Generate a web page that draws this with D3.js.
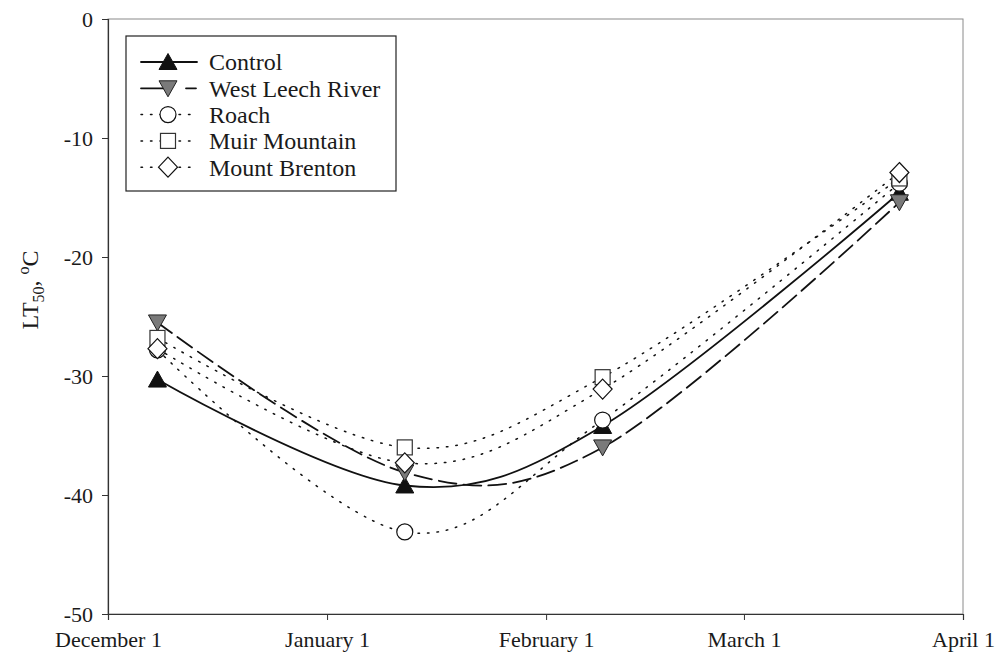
<!DOCTYPE html>
<html>
<head>
<meta charset="utf-8">
<script src="https://cdn.jsdelivr.net/npm/d3@7"></script>
<style>
  body { margin: 0; background: #fff; }
  svg text { font-family: "Liberation Serif", "Times New Roman", Times, "DejaVu Serif", serif !important; fill: #1a1a1a; }
</style>
</head>
<body>
<svg width="997" height="653"></svg>
<script>
// sampling dates and LT50 values
var dates = ["2001-12-08", "2002-01-12", "2002-02-09", "2002-03-23"];
var control = [-30.3, -39.2, -34.2, -14.6];
var westLeech = [-25.5, -38.1, -36.0, -15.4];
var roach = [-27.8, -43.1, -33.7, -13.8];
var muir = [-26.8, -36.0, -30.1, -13.4];
var brenton = [-27.7, -37.3, -31.1, -12.9];

var seriesNames = ["Control", "West Leech River", "Roach", "Muir Mountain", "Mount Brenton"];
var xTickDates = ["2001-12-01", "2002-01-01", "2002-02-01", "2002-03-01", "2002-04-01"];
var xTickLabels = ["December 1", "January 1", "February 1", "March 1", "April 1"];
var yTicks = [0, -10, -20, -30, -40, -50];

var svg = d3.select("svg");
var parse = d3.timeParse("%Y-%m-%d");

// plot area edges ("top" is reserved on window, so use other names)
var plotL = 108, plotR = 963, plotT = 19, plotB = 614;

var x = d3.scaleTime()
  .domain([parse(xTickDates[0]), parse(xTickDates[xTickDates.length - 1])])
  .range([plotL, plotR]);
var y = d3.scaleLinear().domain([-50, 0]).range([plotB, plotT]);

// plot frame, light grey
svg.append("rect")
  .attr("x", plotL).attr("y", plotT)
  .attr("width", plotR - plotL).attr("height", plotB - plotT)
  .attr("fill", "none").attr("stroke", "#8a8a8a").attr("stroke-width", 1);

// axes
var xAxis = d3.axisBottom(x)
  .tickValues(xTickDates.map(parse))
  .tickFormat(function(d, i) { return xTickLabels[i]; })
  .tickSize(6).tickPadding(7);
var gx = svg.append("g").attr("transform", "translate(0," + plotB + ")").call(xAxis);

// plain hyphen for negatives, like the original
var yAxis = d3.axisLeft(y).tickValues(yTicks).tickSize(6).tickPadding(9)
  .tickFormat(function(d) { return String(d); });
var gy = svg.append("g").attr("transform", "translate(" + plotL + ",0)").call(yAxis);

[gx, gy].forEach(function(g) {
  g.attr("font-family", null);
  g.select(".domain").attr("stroke", "#333").attr("stroke-width", 1.2);
  g.selectAll(".tick line").attr("stroke", "#333");
  g.selectAll(".tick text")
    .attr("font-size", 22)
    .attr("fill", "#1a1a1a");
});
gx.selectAll(".tick text").attr("dy", "0.9em");

// y axis title: LT50, oC
var title = svg.append("text")
  .attr("transform", "translate(38,290) rotate(-90)")
  .attr("text-anchor", "middle")
  .attr("font-size", 24);
title.append("tspan").text("LT");
title.append("tspan").attr("font-size", 16).attr("dy", 6).text("50");
title.append("tspan").attr("dy", -6).text(", ");
title.append("tspan").attr("font-size", 16).attr("dy", -9).text("o");
title.append("tspan").attr("dy", 9).text("C");

// series styles
var allSeries = [control, westLeech, roach, muir, brenton];
var dashes = [null, "18,7", "1.5,8", "1.5,8", "1.5,8"];
var legendDashes = [null, "25,20,10,20", "1.5,8", "1.5,8", "1.5,8"];
var widths = [1.8, 1.8, 1.5, 1.5, 1.5];
var shapes = ["up", "down", "circle", "square", "diamond"];

var line = d3.line()
  .x(function(d) { return x(d[0]); })
  .y(function(d) { return y(d[1]); })
  .curve(d3.curveCardinal.tension(0));

function drawMarker(g, shape) {
  if (shape === "up") {
    g.append("path").attr("d", "M0,-8.5L9,7.5L-9,7.5Z").attr("fill", "#111").attr("stroke", "#111");
  } else if (shape === "down") {
    g.append("path").attr("d", "M0,8.5L9,-7.5L-9,-7.5Z").attr("fill", "#7a7a7a").attr("stroke", "#222");
  } else if (shape === "circle") {
    g.append("circle").attr("r", 8).attr("fill", "#fff").attr("stroke", "#111").attr("stroke-width", 1.2);
  } else if (shape === "square") {
    g.append("rect").attr("x", -7.5).attr("y", -7.5).attr("width", 15).attr("height", 15)
      .attr("fill", "#fff").attr("stroke", "#333").attr("stroke-width", 1.2);
  } else {
    g.append("path").attr("d", "M0,-10L9.5,0L0,10L-9.5,0Z").attr("fill", "#fff").attr("stroke", "#111").attr("stroke-width", 1.2);
  }
}

// lines (drawn in reverse so Control is on top)
d3.range(allSeries.length).reverse().forEach(function(k) {
  var pts = dates.map(function(d, i) { return [parse(d), allSeries[k][i]]; });
  svg.append("path")
    .attr("d", line(pts))
    .attr("fill", "none")
    .attr("stroke", "#111")
    .attr("stroke-width", widths[k])
    .attr("stroke-linecap", "round")
    .attr("stroke-dasharray", dashes[k]);
});

// markers
[0, 1, 2, 3, 4].forEach(function(k) {
  dates.forEach(function(d, i) {
    var g = svg.append("g").attr("transform", "translate(" + x(parse(d)) + "," + y(allSeries[k][i]) + ")");
    drawMarker(g, shapes[k]);
  });
});

// legend
var legend = svg.append("g");
legend.append("rect")
  .attr("x", 126).attr("y", 36).attr("width", 270).attr("height", 155)
  .attr("fill", "#fff").attr("stroke", "#222").attr("stroke-width", 1.2);

seriesNames.forEach(function(name, k) {
  var ly = 62 + k * 26.3;
  legend.append("line")
    .attr("x1", 141).attr("x2", 197).attr("y1", ly).attr("y2", ly)
    .attr("stroke", "#111").attr("stroke-width", widths[k])
    .attr("stroke-linecap", "round")
    .attr("stroke-dasharray", legendDashes[k]);
  var g = legend.append("g").attr("transform", "translate(168," + ly + ")");
  drawMarker(g, shapes[k]);
  legend.append("text")
    .attr("x", 209).attr("y", ly).attr("dy", "0.35em")
    .attr("font-size", 24)
    .text(name);
});
</script>
</body>
</html>
